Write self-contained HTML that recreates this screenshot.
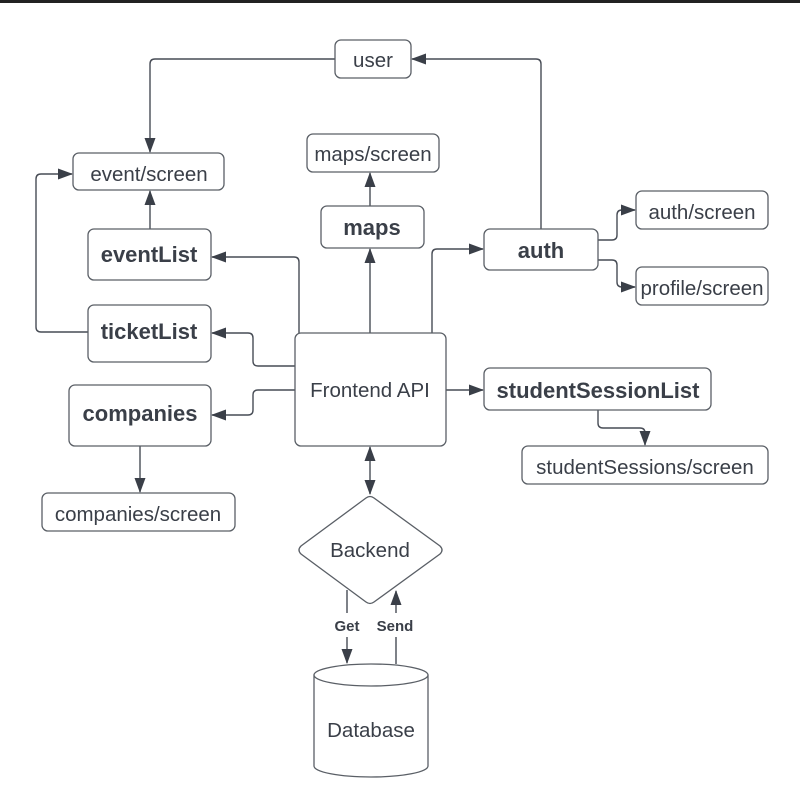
<!DOCTYPE html>
<html><head><meta charset="utf-8"><style>
html,body{margin:0;padding:0;background:#fff;}
svg{display:block;}
text{font-family:"Liberation Sans",Arial,sans-serif;fill:#3a3f48;}
.b{fill:#fff;stroke:#5a5f66;stroke-width:1.3;}
.l{fill:none;stroke:#474c55;stroke-width:1.4;}
.t{font-size:20.5px;}
.bt{font-size:22px;font-weight:bold;}
</style></head><body>
<svg width="800" height="803" viewBox="0 0 800 803" xmlns="http://www.w3.org/2000/svg">
<defs>
<marker id="a" viewBox="0 0 10 10" refX="9" refY="5" markerWidth="10" markerHeight="10" markerUnits="userSpaceOnUse" orient="auto-start-reverse" overflow="visible">
<path d="M-5 -0.5 L10 5 L-5 10.5 Z" fill="#3a3f48"/></marker>
</defs>
<rect x="0" y="0" width="800" height="3" fill="#222"/>

<path class="l" d="M335 59 H155 Q150 59 150 64 V152" marker-end="url(#a)"/>
<path class="l" d="M541 229 V64 Q541 59 536 59 H412" marker-end="url(#a)"/>
<path class="l" d="M150 229 V191" marker-end="url(#a)"/>
<path class="l" d="M88 332 H41 Q36 332 36 327 V179 Q36 174 41 174 H72" marker-end="url(#a)"/>
<path class="l" d="M299 333 V262 Q299 257 294 257 H212" marker-end="url(#a)"/>
<path class="l" d="M295 366 H258 Q253 366 253 361 V338 Q253 333 248 333 H212" marker-end="url(#a)"/>
<path class="l" d="M295 390 H258 Q253 390 253 395 V410 Q253 415 248 415 H212" marker-end="url(#a)"/>
<path class="l" d="M370 333 V249" marker-end="url(#a)"/>
<path class="l" d="M370 206 V173" marker-end="url(#a)"/>
<path class="l" d="M432 333 V254 Q432 249 437 249 H483" marker-end="url(#a)"/>
<path class="l" d="M598 240 H612 Q617 240 617 235 V215 Q617 210 622 210 H635" marker-end="url(#a)"/>
<path class="l" d="M598 260 H612 Q617 260 617 265 V282 Q617 287 622 287 H635" marker-end="url(#a)"/>
<path class="l" d="M446 390 H483" marker-end="url(#a)"/>
<path class="l" d="M598 410 V423 Q598 428 603 428 H640 Q645 428 645 433 V445" marker-end="url(#a)"/>
<path class="l" d="M140 446 V492" marker-end="url(#a)"/>
<path class="l" d="M370 447 V494" marker-start="url(#a)" marker-end="url(#a)"/>
<path class="l" d="M347 590 V613 M347 637 V663" marker-end="url(#a)"/>
<path class="l" d="M396 664 V637 M396 613 V591" marker-end="url(#a)"/>
<text x="347" y="631" text-anchor="middle" style="font-size:15px;font-weight:bold">Get</text>
<text x="395" y="631" text-anchor="middle" style="font-size:15px;font-weight:bold">Send</text>

<rect class="b" x="335" y="40" width="76" height="38" rx="6"/>
<text class="t" x="373" y="67" text-anchor="middle">user</text>
<rect class="b" x="73" y="153" width="151" height="37" rx="6"/>
<text class="t" x="149" y="181" text-anchor="middle">event/screen</text>
<rect class="b" x="307" y="134" width="132" height="38" rx="6"/>
<text class="t" x="373" y="161" text-anchor="middle">maps/screen</text>
<rect class="b" x="321" y="206" width="103" height="42" rx="6"/>
<text class="bt" x="372" y="235" text-anchor="middle">maps</text>
<rect class="b" x="88" y="229" width="123" height="51" rx="6"/>
<text class="bt" x="149" y="262" text-anchor="middle">eventList</text>
<rect class="b" x="484" y="229" width="114" height="41" rx="6"/>
<text class="bt" x="541" y="258" text-anchor="middle">auth</text>
<rect class="b" x="636" y="191" width="132" height="38" rx="6"/>
<text class="t" x="702" y="219" text-anchor="middle">auth/screen</text>
<rect class="b" x="636" y="267" width="132" height="38" rx="6"/>
<text class="t" x="702" y="295" text-anchor="middle">profile/screen</text>
<rect class="b" x="88" y="305" width="123" height="57" rx="6"/>
<text class="bt" x="149" y="339" text-anchor="middle">ticketList</text>
<rect class="b" x="295" y="333" width="151" height="113" rx="6"/>
<text class="t" x="370" y="397" text-anchor="middle">Frontend API</text>
<rect class="b" x="69" y="385" width="142" height="61" rx="6"/>
<text class="bt" x="140" y="421" text-anchor="middle">companies</text>
<rect class="b" x="484" y="368" width="227" height="42" rx="6"/>
<text class="bt" x="598" y="398" text-anchor="middle">studentSessionList</text>
<rect class="b" x="522" y="446" width="246" height="38" rx="6"/>
<text class="t" x="645" y="474" text-anchor="middle">studentSessions/screen</text>
<rect class="b" x="42" y="493" width="193" height="38" rx="6"/>
<text class="t" x="138" y="521" text-anchor="middle">companies/screen</text>

<path class="b" d="M366 498 Q370 495 374 498 L440 546 Q444 550 440 554 L374 602 Q370 605 366 602 L301 554 Q297 550 301 546 Z"/>
<text class="t" x="370" y="557" text-anchor="middle">Backend</text>

<path class="b" d="M314 675 V766 A57 11 0 0 0 428 766 V675"/>
<ellipse class="b" cx="371" cy="675" rx="57" ry="11"/>
<text class="t" x="371" y="737" text-anchor="middle">Database</text>
</svg>
</body></html>
